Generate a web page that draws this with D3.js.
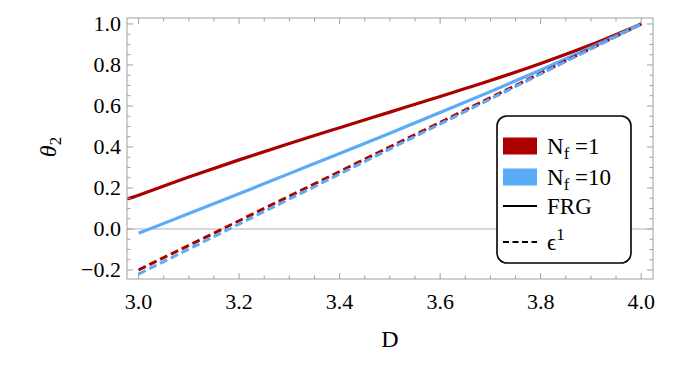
<!DOCTYPE html>
<html>
<head>
<meta charset="utf-8">
<script src="https://cdn.jsdelivr.net/npm/d3@7"></script>
<style>
  body { margin: 0; background: #fff; }
</style>
</head>
<body>
<div id="chart"></div>
<script>
// values
const frgNf1 = [[2.977, 0.146], [3.0, 0.165], [3.1, 0.253], [3.2, 0.337], [3.3, 0.417], [3.4, 0.494],
  [3.5, 0.57], [3.6, 0.646], [3.7, 0.724], [3.8, 0.807], [3.9, 0.898], [4.0, 1.0]];
const frgNf10 = [[3.0, -0.021], [3.1, 0.075], [3.2, 0.172], [3.3, 0.27], [3.4, 0.368], [3.5, 0.467],
  [3.6, 0.568], [3.7, 0.67], [3.8, 0.775], [3.9, 0.885], [4.0, 1.0]];
const epsNf1 = [[3.0, -0.2], [4.0, 1.0]];
const epsNf10 = [[3.0, -0.22], [4.0, 1.0]];
const xTicks = [3.0, 3.2, 3.4, 3.6, 3.8, 4.0];
const yTicks = [-0.2, 0.0, 0.2, 0.4, 0.6, 0.8, 1.0];

const width = 675, height = 365;
const margin = ({top: 18, right: 22, bottom: 86, left: 127});
const red = "#aa0000", blue = "#5aabf8", frameCol = "#a0a0a0";
const serif = "Liberation Serif";

const svg = d3.select("#chart").append("svg")
  .attr("width", width).attr("height", height);

const x = d3.scaleLinear().domain([2.977, 4.0235]).range([margin.left, width - margin.right]);
const y = d3.scaleLinear().domain([-0.244, 1.029]).range([height - margin.bottom, margin.top]);

svg.append("clipPath").attr("id", "clip").append("rect")
  .attr("x", margin.left).attr("y", margin.top)
  .attr("width", width - margin.left - margin.right)
  .attr("height", height - margin.top - margin.bottom);

// ligne y = 0
svg.append("line")
  .attr("x1", margin.left).attr("x2", width - margin.right)
  .attr("y1", y(0)).attr("y2", y(0))
  .attr("stroke", "#b0b0b0").attr("stroke-width", 1);

// courbes
const line = d3.line().x(d => x(d[0])).y(d => y(d[1])).curve(d3.curveCatmullRom);
const series = [
  {data: frgNf1, color: red, dash: null, w: 3.2},
  {data: frgNf10, color: blue, dash: null, w: 3.2},
  {data: epsNf1, color: red, dash: "8,4", w: 3},
  {data: epsNf10, color: blue, dash: "8,4", w: 3}
];
const gLines = svg.append("g").attr("clip-path", "url(#clip)");
series.forEach(s => {
  gLines.append("path")
    .attr("d", line(s.data))
    .attr("fill", "none")
    .attr("stroke", s.color)
    .attr("stroke-width", s.w)
    .attr("stroke-dasharray", s.dash);
});

// cadre + graduations
const x0 = margin.left, x1 = width - margin.right, y0 = height - margin.bottom, y1 = margin.top;
svg.append("rect").attr("x", x0).attr("y", y1).attr("width", x1 - x0).attr("height", y0 - y1)
  .attr("fill", "none").attr("stroke", frameCol).attr("stroke-width", 1);

const xMinor = d3.range(3.0, 4.0001, 0.05);
const yMinor = d3.range(-0.2, 1.0001, 0.05);
const ticks = svg.append("g").attr("stroke", frameCol).attr("stroke-width", 1);
xMinor.forEach(v => {
  const major = xTicks.some(t => Math.abs(t - v) < 1e-6);
  const len = major ? 6 : 3.5;
  ticks.append("line").attr("x1", x(v)).attr("x2", x(v)).attr("y1", y0).attr("y2", y0 - len);
  ticks.append("line").attr("x1", x(v)).attr("x2", x(v)).attr("y1", y1).attr("y2", y1 + len);
});
yMinor.forEach(v => {
  const major = yTicks.some(t => Math.abs(t - v) < 1e-6);
  const len = major ? 6 : 3.5;
  ticks.append("line").attr("y1", y(v)).attr("y2", y(v)).attr("x1", x0).attr("x2", x0 + len);
  ticks.append("line").attr("y1", y(v)).attr("y2", y(v)).attr("x1", x1).attr("x2", x1 - len);
});

// étiquettes
svg.append("g").selectAll("text").data(xTicks).join("text")
  .attr("x", d => x(d)).attr("y", 309)
  .attr("text-anchor", "middle").attr("font-family", serif).attr("font-size", 22)
  .text(d => d.toFixed(1));
svg.append("g").selectAll("text").data(yTicks).join("text")
  .attr("x", 121).attr("y", d => y(d) + 7.5)
  .attr("text-anchor", "end").attr("font-family", serif).attr("font-size", 22)
  .text(d => (d < 0 ? "\u2212" : "") + Math.abs(d).toFixed(1));

svg.append("text").attr("x", 390).attr("y", 347)
  .attr("text-anchor", "middle").attr("font-family", serif).attr("font-size", 24).text("D");

const yl = svg.append("text")
  .attr("transform", "translate(56,147) rotate(-90)")
  .attr("text-anchor", "middle").attr("font-family", serif).attr("font-size", 24);
yl.append("tspan").attr("font-style", "italic").text("\u03b8");
yl.append("tspan").attr("dy", 5).attr("font-size", 17).text("2");

// légende
const lg = svg.append("g");
lg.append("rect").attr("x", 497).attr("y", 116).attr("width", 134).attr("height", 147)
  .attr("rx", 10).attr("fill", "#fff").attr("stroke", "#000").attr("stroke-width", 1.6);

const legendItems = [
  {kind: "box", color: red, cy: 146, label: "1"},
  {kind: "box", color: blue, cy: 177, label: "10"},
  {kind: "line", dash: null, cy: 206, label: "FRG"},
  {kind: "line", dash: "6,3.5", cy: 242, label: "eps"}
];
legendItems.forEach(it => {
  if (it.kind === "box") {
    lg.append("rect").attr("x", 503).attr("y", it.cy - 8.5).attr("width", 34).attr("height", 17)
      .attr("fill", it.color);
    const t = lg.append("text").attr("x", 547).attr("y", it.cy + 7.5)
      .attr("font-family", serif).attr("font-size", 23);
    t.append("tspan").text("N");
    t.append("tspan").attr("dy", 5).attr("font-size", 17).text("f");
    t.append("tspan").attr("dy", -5).text(" =" + it.label);
  } else {
    lg.append("line").attr("x1", 503).attr("x2", 537).attr("y1", it.cy).attr("y2", it.cy)
      .attr("stroke", "#000").attr("stroke-width", 1.8).attr("stroke-dasharray", it.dash);
    const t = lg.append("text").attr("x", 547).attr("y", it.cy + 8)
      .attr("font-family", serif).attr("font-size", 23);
    if (it.label === "FRG") t.text("FRG");
    else {
      t.append("tspan").text("\u03f5");
      t.append("tspan").attr("dy", -10).attr("font-size", 17).text("1");
    }
  }
});
</script>
</body>
</html>
